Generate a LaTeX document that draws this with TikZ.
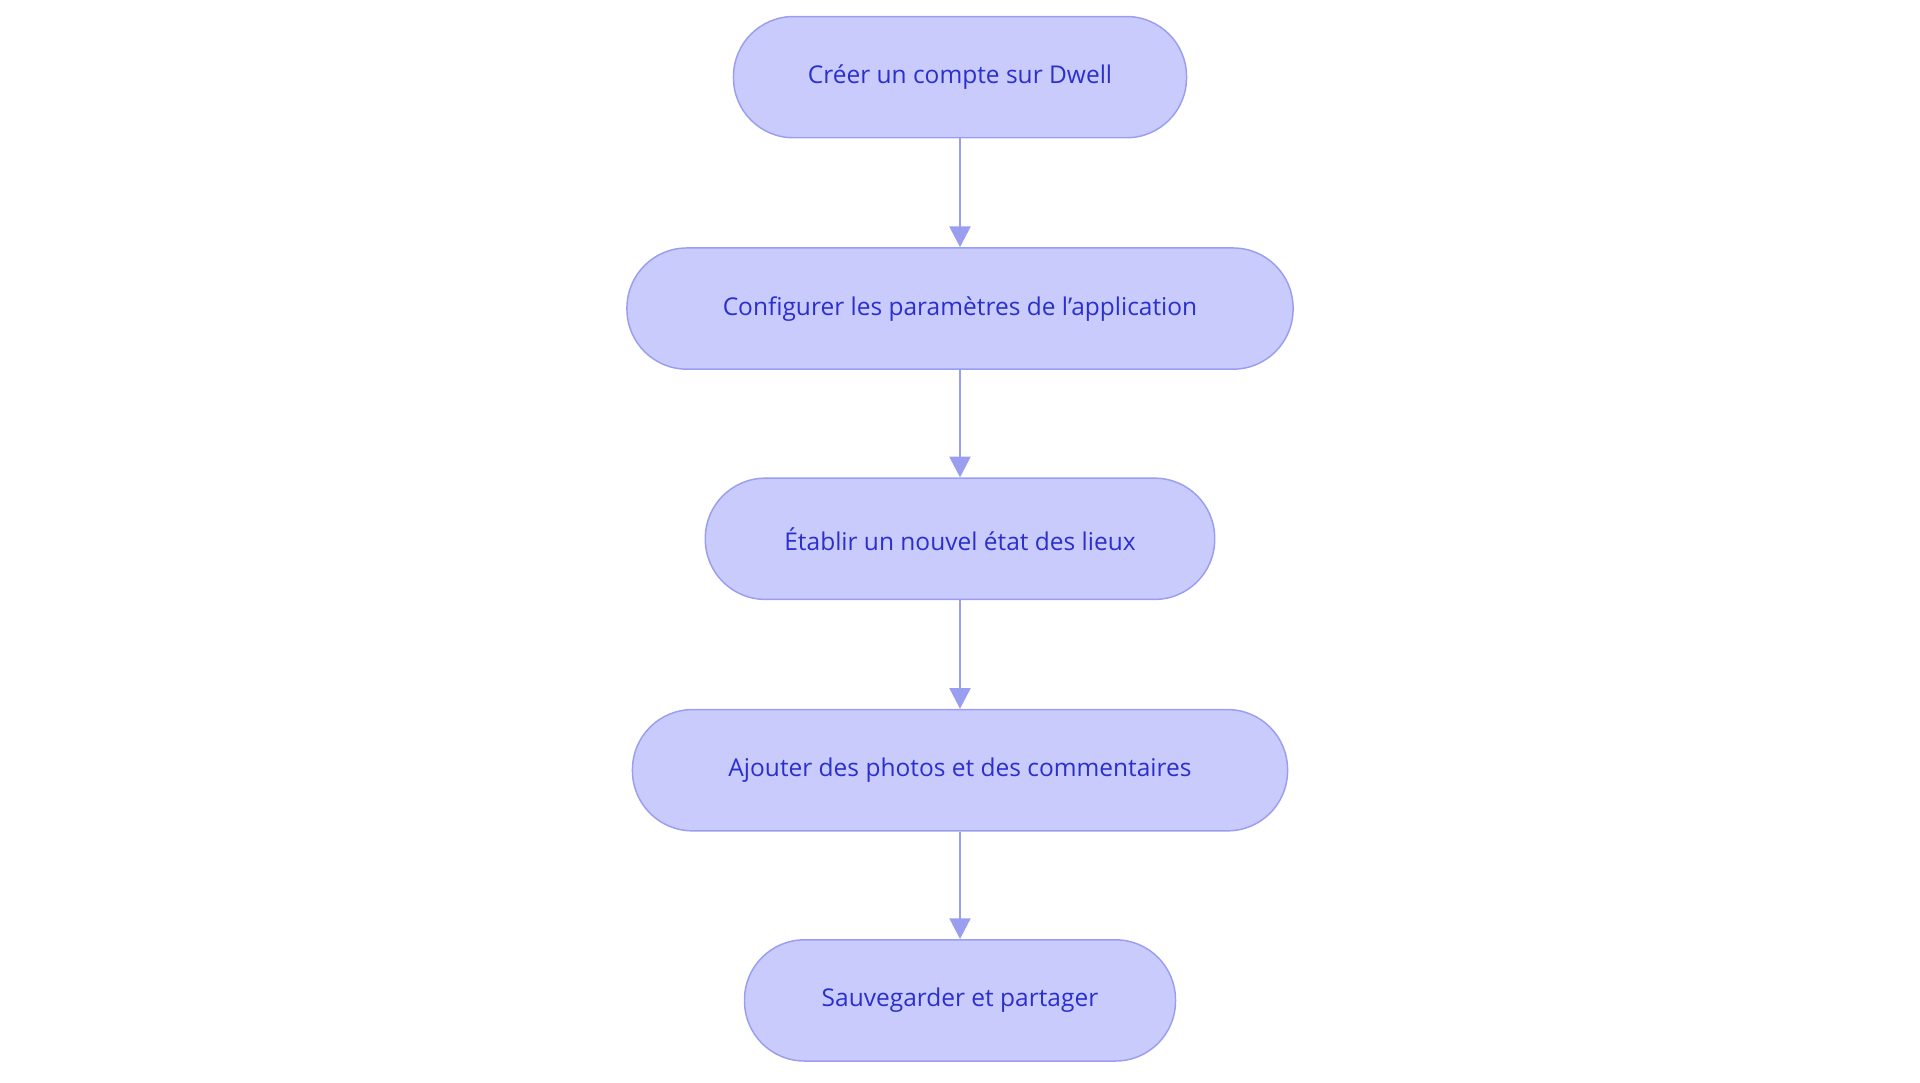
\documentclass[tikz,border=0pt]{standalone}
\usepackage{fontspec}
\setmainfont{Open Sans}
\usetikzlibrary{arrows.meta}
\definecolor{boxfill}{HTML}{C9CBFD}
\definecolor{boxline}{HTML}{9A9EF0}
\definecolor{boxtext}{HTML}{2B2FCB}
\tikzset{
  stepbox/.style={draw=boxline, line width=1.2pt, fill=boxfill, rounded corners=49pt,
    minimum height=99pt, inner sep=0pt, text=boxtext, font=\fontsize{20}{24}\selectfont},
  conn/.style={draw=boxline, line width=2.4pt, -{Triangle[length=17pt,width=17pt]}}
}
\begin{document}
\begin{tikzpicture}[x=1pt,y=-1pt]
\useasboundingbox (0,0) rectangle (1568,884);
\node[stepbox, minimum width=370pt] (a) at (784,63) {Créer un compte sur Dwell};
\node[stepbox, minimum width=544pt] (b) at (784,252) {Configurer les paramètres de l'application};
\node[stepbox, minimum width=416pt] (c) at (784,440) {Établir un nouvel état des lieux};
\node[stepbox, minimum width=535pt] (d) at (784,629) {Ajouter des photos et des commentaires};
\node[stepbox, minimum width=352pt] (e) at (784,817) {Sauvegarder et partager};
\draw[conn] (a) -- (b);
\draw[conn] (b) -- (c);
\draw[conn] (c) -- (d);
\draw[conn] (d) -- (e);
\end{tikzpicture}
\end{document}
